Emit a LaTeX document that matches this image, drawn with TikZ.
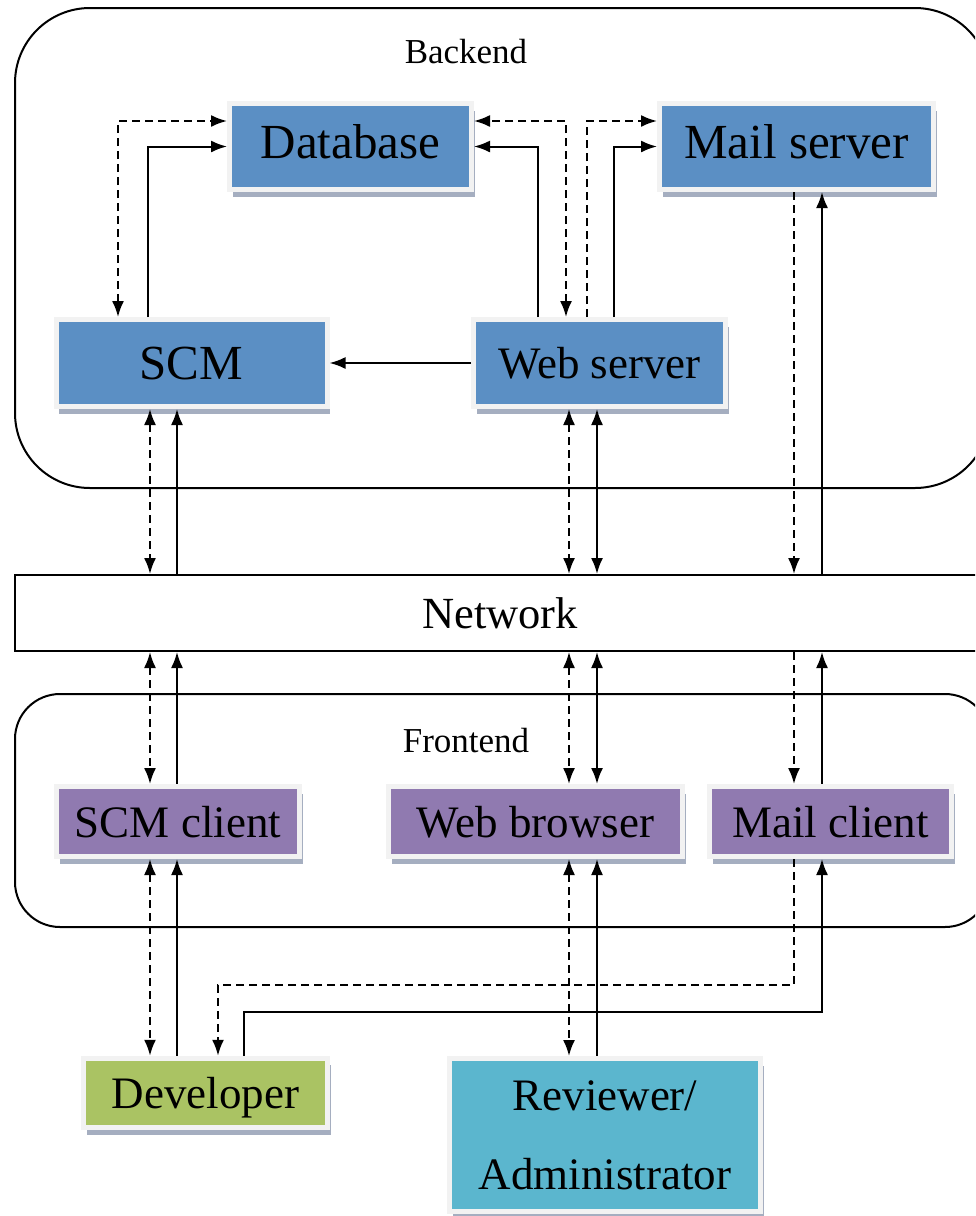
\documentclass[tikz,border=0pt]{standalone}
\usepackage{fontspec}
\setmainfont{Liberation Serif}
\usetikzlibrary{arrows.meta}
\usetikzlibrary{shadows}

\definecolor{serverblue}{RGB}{91,143,196}
\definecolor{clientpurple}{RGB}{144,122,176}
\definecolor{devgreen}{RGB}{170,195,99}
\definecolor{revcyan}{RGB}{91,182,206}
\definecolor{boxrim}{RGB}{242,242,242}
\definecolor{boxshade}{RGB}{165,174,192}

\begin{document}
\begin{tikzpicture}[x=1pt,y=-1pt,>={Latex[length=16pt,width=12pt]},line width=2pt,
  comp/.style={draw=boxrim,line width=5pt,inner sep=0pt,text depth=0pt,
    drop shadow={shadow xshift=3pt,shadow yshift=-7pt,fill=boxshade,opacity=1}},
  server/.style={comp,fill=serverblue,font=\fontsize{49}{58}\selectfont},
  client/.style={comp,fill=clientpurple,minimum height=70pt,font=\fontsize{45}{54}\selectfont},
  dashedlink/.style={dash pattern=on 8pt off 5pt}]

  \clip (0,0) rectangle (975,1216);

  % backend and frontend frames
  \draw[rounded corners=75pt] (15,8) rectangle (990,488);
  \node[font=\fontsize{35}{42}\selectfont] (back) at (466,52) {Backend};
  \draw[rounded corners=45pt] (15,694) rectangle (990,927);
  \node[font=\fontsize{35}{42}\selectfont] (front) at (466,741) {Frontend};

  \node[server,text depth=10pt,minimum width=242pt,minimum height=86pt] (db) at (350.5,146.5) {Database};
  \node[server,text depth=10pt,minimum width=274pt,minimum height=86pt] (ms) at (796.5,146.5) {Mail server};
  \node[server,minimum width=271pt,minimum height=87pt] (scm) at (191.5,363) {SCM};
  \node[server,font=\fontsize{45}{54}\selectfont,minimum width=252pt,minimum height=87pt] (ws) at (599.5,363) {Web server};

  \node[draw,inner sep=0pt,minimum width=970pt,minimum height=76pt,font=\fontsize{44.5}{53}\selectfont] (net) at (500,613) {Network};

  \node[client,minimum width=243pt] (scmc) at (178,821.5) {SCM client};
  \node[client,minimum width=294pt] (wb) at (535.5,821.5) {Web browser};
  \node[client,minimum width=242pt] (mc) at (830.5,821.5) {Mail client};

  \node[comp,fill=devgreen,minimum width=244pt,minimum height=69.5pt,font=\fontsize{45}{54}\selectfont] (dev) at (205.5,1093) {Developer};
  \node[comp,fill=revcyan,align=center,minimum width=311pt,minimum height=153pt,font=\fontsize{45}{79}\selectfont] (rev) at (605,1135) {Reviewer/\\Administrator};

  % columns and rows of the links
  \coordinate (topD) at (0,121);
  \coordinate (scmdbD) at (118,0);
  \coordinate (scmdbS) at (148,0);
  \coordinate (wsdbS) at (538,0);
  \coordinate (wsdbD) at (566,0);
  \coordinate (wsmsD) at (587,0);
  \coordinate (wsmsS) at (614,0);
  \coordinate (scmD) at (150,0);
  \coordinate (scmS) at (177,0);
  \coordinate (webD) at (569,0);
  \coordinate (webS) at (597,0);
  \coordinate (mailD) at (794,0);
  \coordinate (mailS) at (822,0);
  \coordinate (devD) at (218,985);
  \coordinate (devS) at (244,1012);

  % backend links
  \draw[<->,dashedlink] (scm.north -| scmdbD) |- (db.west |- topD);
  \draw[->] (scm.north -| scmdbS) |- (db.west);
  \draw[<->,dashedlink] (ws.north -| wsdbD) |- (db.east |- topD);
  \draw[->] (ws.north -| wsdbS) |- (db.east);
  \draw[->,dashedlink] (ws.north -| wsmsD) |- (ms.west |- topD);
  \draw[->] (ws.north -| wsmsS) |- (ms.west);
  \draw[->] (ws.west) -- (scm.east);

  % backend to network
  \draw[<->,dashedlink] (scm.south -| scmD) -- (net.north -| scmD);
  \draw[<-] (scm.south -| scmS) -- (net.north -| scmS);
  \draw[<->,dashedlink] (ws.south -| webD) -- (net.north -| webD);
  \draw[<->] (ws.south -| webS) -- (net.north -| webS);
  \draw[->,dashedlink] (ms.south -| mailD) -- (net.north -| mailD);
  \draw[<-] (ms.south -| mailS) -- (net.north -| mailS);

  % network to frontend
  \draw[<->,dashedlink] (net.south -| scmD) -- (scmc.north -| scmD);
  \draw[<-] (net.south -| scmS) -- (scmc.north -| scmS);
  \draw[<->,dashedlink] (net.south -| webD) -- (wb.north -| webD);
  \draw[<->] (net.south -| webS) -- (wb.north -| webS);
  \draw[->,dashedlink] (net.south -| mailD) -- (mc.north -| mailD);
  \draw[<-] (net.south -| mailS) -- (mc.north -| mailS);

  % frontend to users
  \draw[<->,dashedlink] (scmc.south -| scmD) -- (dev.north -| scmD);
  \draw[<-] (scmc.south -| scmS) -- (dev.north -| scmS);
  \draw[<->,dashedlink] (wb.south -| webD) -- (rev.north -| webD);
  \draw[<-] (wb.south -| webS) -- (rev.north -| webS);
  \draw[->,dashedlink] (mc.south -| mailD) |- (devD) -- (dev.north -| devD);
  \draw[<-] (mc.south -| mailS) |- (devS) -- (dev.north -| devS);
\end{tikzpicture}
\end{document}
